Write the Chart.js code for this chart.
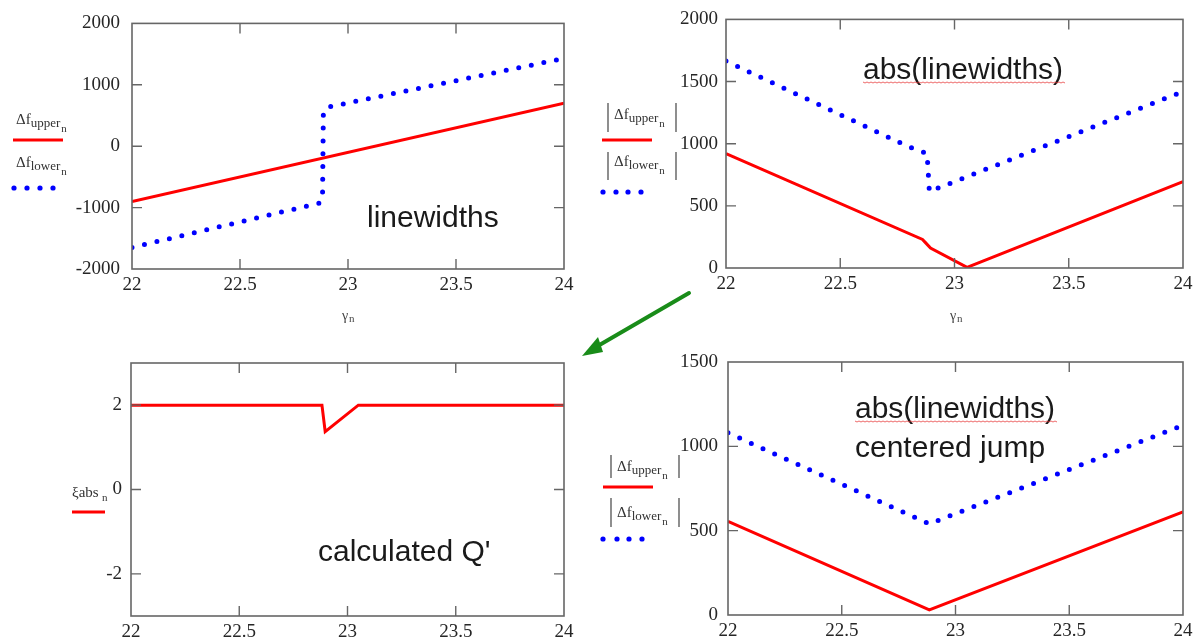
<!DOCTYPE html>
<html>
<head>
<meta charset="utf-8">
<script src="https://cdn.jsdelivr.net/npm/chart.js@4.4.1/dist/chart.umd.min.js"></script>
<style>
  html, body { margin: 0; padding: 0; background: #fff; }
  #pagina { position: relative; width: 1198px; height: 641px; overflow: hidden; background: #fff; }
  canvas { position: absolute; }
  #seta { pointer-events: none; z-index: 5; }
</style>
</head>
<body>
<div id="pagina">
  <canvas id="grafico1" width="590" height="330" style="left:0;top:0"></canvas>
  <canvas id="grafico2" width="608" height="330" style="left:590px;top:0"></canvas>
  <canvas id="grafico3" width="590" height="311" style="left:0;top:330px"></canvas>
  <canvas id="grafico4" width="608" height="311" style="left:590px;top:330px"></canvas>
  <canvas id="seta" width="1198" height="641" style="left:0;top:0"></canvas>
</div>
<script>
// eixo x comum
var xTicks = [22, 22.5, 23, 23.5, 24];

// grafico 1 - linewidths
var g1Ticks = [-2000, -1000, 0, 1000, 2000];
var g1UpperX = [22, 24];
var g1UpperY = [-900, 700];
var g1LowerX = [22, 22.87, 22.882, 22.886, 22.91, 24];
var g1LowerY = [-1650, -925, -860, 560, 640, 1430];

// grafico 2 - abs(linewidths)
var g2Ticks = [0, 500, 1000, 1500, 2000];
var g2UpperX = [22, 22.86, 22.875, 22.895, 23.055, 24];
var g2UpperY = [920, 230, 200, 160, 5, 695];
var g2LowerX = [22, 22.8, 22.88, 22.89, 24];
var g2LowerY = [1665, 975, 920, 615, 1420];

// grafico 3 - calculated Q'
var g3Ticks = [-2, 0, 2];
var g3X = [22, 22.882, 22.897, 23.05, 24];
var g3Y = [2, 2, 1.37, 2, 2];

// grafico 4 - centered jump
var g4Ticks = [0, 500, 1000, 1500];
var g4UpperX = [22, 22.885, 24];
var g4UpperY = [555, 30, 612];
var g4LowerX = [22, 22.885, 24];
var g4LowerY = [1080, 540, 1125];

var VERMELHO = "rgb(255, 0, 0)";
var AZUL = "rgb(0, 0, 255)";
var SERIF = "'Liberation Serif', 'DejaVu Serif', serif";
var SANS = "'Liberation Sans', Arial, sans-serif";

function pares(xs, ys) {
  return xs.map(function (x, i) {
    return { x: x, y: ys[i] };
  });
}

function serieVermelha(xs, ys) {
  return {
    data: pares(xs, ys),
    borderColor: VERMELHO,
    borderWidth: 3,
    pointRadius: 0,
    tension: 0,
    fill: false,
  };
}

function serieAzul(xs, ys) {
  return {
    data: pares(xs, ys),
    borderColor: AZUL,
    borderWidth: 5,
    borderDash: [0, 12.8],
    borderCapStyle: "round",
    pointRadius: 0,
    tension: 0,
    fill: false,
  };
}

// moldura com marcas para dentro nos 4 lados
var moldura = {
  id: "moldura",
  afterDatasetsDraw: function (chart) {
    var ctx = chart.ctx;
    var a = chart.chartArea;
    var sx = chart.scales.x;
    var sy = chart.scales.y;
    ctx.save();
    ctx.strokeStyle = "#666";
    ctx.lineWidth = 1.6;
    ctx.strokeRect(a.left, a.top, a.right - a.left, a.bottom - a.top);
    ctx.lineWidth = 1.4;
    ctx.beginPath();
    sx.ticks.forEach(function (t) {
      var px = sx.getPixelForValue(t.value);
      if (Math.abs(px - a.left) < 2 || Math.abs(px - a.right) < 2) return;
      ctx.moveTo(px, a.top);
      ctx.lineTo(px, a.top + 10);
      ctx.moveTo(px, a.bottom);
      ctx.lineTo(px, a.bottom - 10);
    });
    sy.ticks.forEach(function (t) {
      var py = sy.getPixelForValue(t.value);
      if (Math.abs(py - a.top) < 2 || Math.abs(py - a.bottom) < 2) return;
      ctx.moveTo(a.left, py);
      ctx.lineTo(a.left + 10, py);
      ctx.moveTo(a.right, py);
      ctx.lineTo(a.right - 10, py);
    });
    ctx.stroke();
    ctx.restore();
  },
};

// texto tipo MathCAD: base + subscrito + sub-subscrito
function textoSub(ctx, x, y, base, sub, subsub) {
  ctx.fillStyle = "#333";
  ctx.textAlign = "left";
  ctx.textBaseline = "alphabetic";
  ctx.font = "15px " + SERIF;
  ctx.fillText(base, x, y);
  x += ctx.measureText(base).width;
  ctx.font = "13px " + SERIF;
  ctx.fillText(sub, x, y + 3);
  x += ctx.measureText(sub).width + 1;
  if (subsub) {
    ctx.font = "11px " + SERIF;
    ctx.fillText(subsub, x, y + 8);
  }
}

function barra(ctx, x, y0, y1) {
  ctx.strokeStyle = "#444";
  ctx.lineWidth = 1.2;
  ctx.beginPath();
  ctx.moveTo(x, y0);
  ctx.lineTo(x, y1);
  ctx.stroke();
}

function linhaVermelha(ctx, x0, x1, y) {
  ctx.strokeStyle = VERMELHO;
  ctx.lineWidth = 3;
  ctx.beginPath();
  ctx.moveTo(x0, y);
  ctx.lineTo(x1, y);
  ctx.stroke();
}

function pontos(ctx, xs, y) {
  ctx.fillStyle = AZUL;
  xs.forEach(function (x) {
    ctx.beginPath();
    ctx.arc(x, y, 2.6, 0, Math.PI * 2);
    ctx.fill();
  });
}

function rotulo(ctx, texto, x, y) {
  ctx.fillStyle = "#1a1a1a";
  ctx.textAlign = "left";
  ctx.textBaseline = "alphabetic";
  ctx.font = "30px " + SANS;
  ctx.fillText(texto, x, y);
}

// sublinhado ondulado do corretor
function ondulado(ctx, x0, x1, y) {
  ctx.strokeStyle = "rgba(230, 40, 40, 0.7)";
  ctx.lineWidth = 1;
  ctx.beginPath();
  for (var x = x0; x <= x1; x += 2) {
    var yy = y + ((x - x0) % 4 === 0 ? 0 : 1);
    if (x === x0) ctx.moveTo(x, yy);
    else ctx.lineTo(x, yy);
  }
  ctx.stroke();
}

function tituloX(ctx, x, y) {
  ctx.fillStyle = "#444";
  ctx.textAlign = "left";
  ctx.font = "14px " + SERIF;
  ctx.fillText("\u03b3", x, y);
  ctx.font = "11px " + SERIF;
  ctx.fillText("n", x + 7, y + 2);
}

function criarGrafico(id, cfg) {
  var ctx = document.getElementById(id).getContext("2d");
  var fonteTick = { family: SERIF, size: 19 };
  return new Chart(ctx, {
    type: "line",
    data: { datasets: cfg.series },
    options: {
      responsive: false,
      animation: false,
      layout: { padding: { left: 0, top: cfg.top, right: cfg.right, bottom: 0 } },
      plugins: {
        legend: { display: false },
        tooltip: { enabled: false },
      },
      scales: {
        x: {
          type: "linear",
          min: 22,
          max: 24,
          afterBuildTicks: function (s) {
            s.ticks = xTicks.map(function (v) { return { value: v }; });
          },
          afterFit: function (s) { s.height = cfg.xh; },
          grid: { display: false, drawTicks: false },
          border: { display: false },
          ticks: {
            font: fonteTick,
            color: "#262626",
            padding: 5,
            maxRotation: 0,
            autoSkip: false,
            callback: function (v) { return String(v); },
          },
        },
        y: {
          type: "linear",
          min: cfg.yMin,
          max: cfg.yMax,
          afterBuildTicks: function (s) {
            s.ticks = cfg.yTicks.map(function (v) { return { value: v }; });
          },
          afterFit: function (s) { s.width = cfg.yw; },
          grid: { display: false, drawTicks: false },
          border: { display: false },
          ticks: {
            font: fonteTick,
            color: "#262626",
            padding: cfg.yPad,
            autoSkip: false,
            callback: function (v) { return String(v); },
          },
        },
      },
    },
    plugins: [
      moldura,
      {
        id: "textos",
        afterDraw: function (chart) {
          var c = chart.ctx;
          c.save();
          cfg.textos(c);
          c.restore();
        },
      },
    ],
  });
}

// grafico 1
criarGrafico("grafico1", {
  series: [serieVermelha(g1UpperX, g1UpperY), serieAzul(g1LowerX, g1LowerY)],
  top: 13, right: 26, yw: 132, xh: 61, yPad: 12,
  yMin: -2000, yMax: 2000, yTicks: g1Ticks,
  textos: function (c) {
    textoSub(c, 16, 124, "\u0394f", "upper", "n");
    linhaVermelha(c, 13, 63, 140);
    textoSub(c, 16, 167, "\u0394f", "lower", "n");
    pontos(c, [14, 27, 40, 53], 188);
    rotulo(c, "linewidths", 367, 227);
    tituloX(c, 342, 320);
  },
});

// grafico 2
criarGrafico("grafico2", {
  series: [serieVermelha(g2UpperX, g2UpperY), serieAzul(g2LowerX, g2LowerY)],
  top: 15, right: 15, yw: 136, xh: 62, yPad: 8,
  yMin: 0, yMax: 2000, yTicks: g2Ticks,
  textos: function (c) {
    barra(c, 18, 103, 132);
    textoSub(c, 24, 119, "\u0394f", "upper", "n");
    barra(c, 86, 103, 132);
    linhaVermelha(c, 12, 62, 140);
    barra(c, 18, 152, 180);
    textoSub(c, 24, 166, "\u0394f", "lower", "n");
    barra(c, 86, 152, 180);
    pontos(c, [13, 26, 38, 51], 192);
    rotulo(c, "abs(linewidths)", 273, 79);
    ondulado(c, 273, 475, 82);
    tituloX(c, 360, 320);
  },
});

// grafico 3
criarGrafico("grafico3", {
  series: [serieVermelha(g3X, g3Y)],
  top: 33, right: 26, yw: 131, xh: 25, yPad: 9,
  yMin: -3, yMax: 3, yTicks: g3Ticks,
  textos: function (c) {
    c.fillStyle = "#333";
    c.font = "15px " + SERIF;
    c.fillText("\u03beabs", 72, 167);
    c.font = "11px " + SERIF;
    c.fillText("n", 102, 171);
    linhaVermelha(c, 72, 105, 182);
    rotulo(c, "calculated Q'", 318, 231);
  },
});

// grafico 4
criarGrafico("grafico4", {
  series: [serieVermelha(g4UpperX, g4UpperY), serieAzul(g4LowerX, g4LowerY)],
  top: 32, right: 15, yw: 138, xh: 26, yPad: 10,
  yMin: 0, yMax: 1500, yTicks: g4Ticks,
  textos: function (c) {
    barra(c, 21, 125, 148);
    textoSub(c, 27, 141, "\u0394f", "upper", "n");
    barra(c, 89, 125, 148);
    linhaVermelha(c, 13, 63, 157);
    barra(c, 21, 168, 197);
    textoSub(c, 27, 187, "\u0394f", "lower", "n");
    barra(c, 89, 168, 197);
    pontos(c, [13, 27, 39, 52], 209);
    rotulo(c, "abs(linewidths)", 265, 88);
    ondulado(c, 265, 467, 91);
    rotulo(c, "centered jump", 265, 127);
  },
});

// seta verde entre os graficos
(function () {
  var c = document.getElementById("seta").getContext("2d");
  c.strokeStyle = "rgb(25, 140, 25)";
  c.fillStyle = "rgb(25, 140, 25)";
  c.lineWidth = 4;
  c.lineCap = "round";
  c.beginPath();
  c.moveTo(689, 293);
  c.lineTo(596, 347);
  c.stroke();
  c.beginPath();
  c.moveTo(582, 356);
  c.lineTo(598, 337);
  c.lineTo(603, 352);
  c.closePath();
  c.fill();
})();
</script>
</body>
</html>
